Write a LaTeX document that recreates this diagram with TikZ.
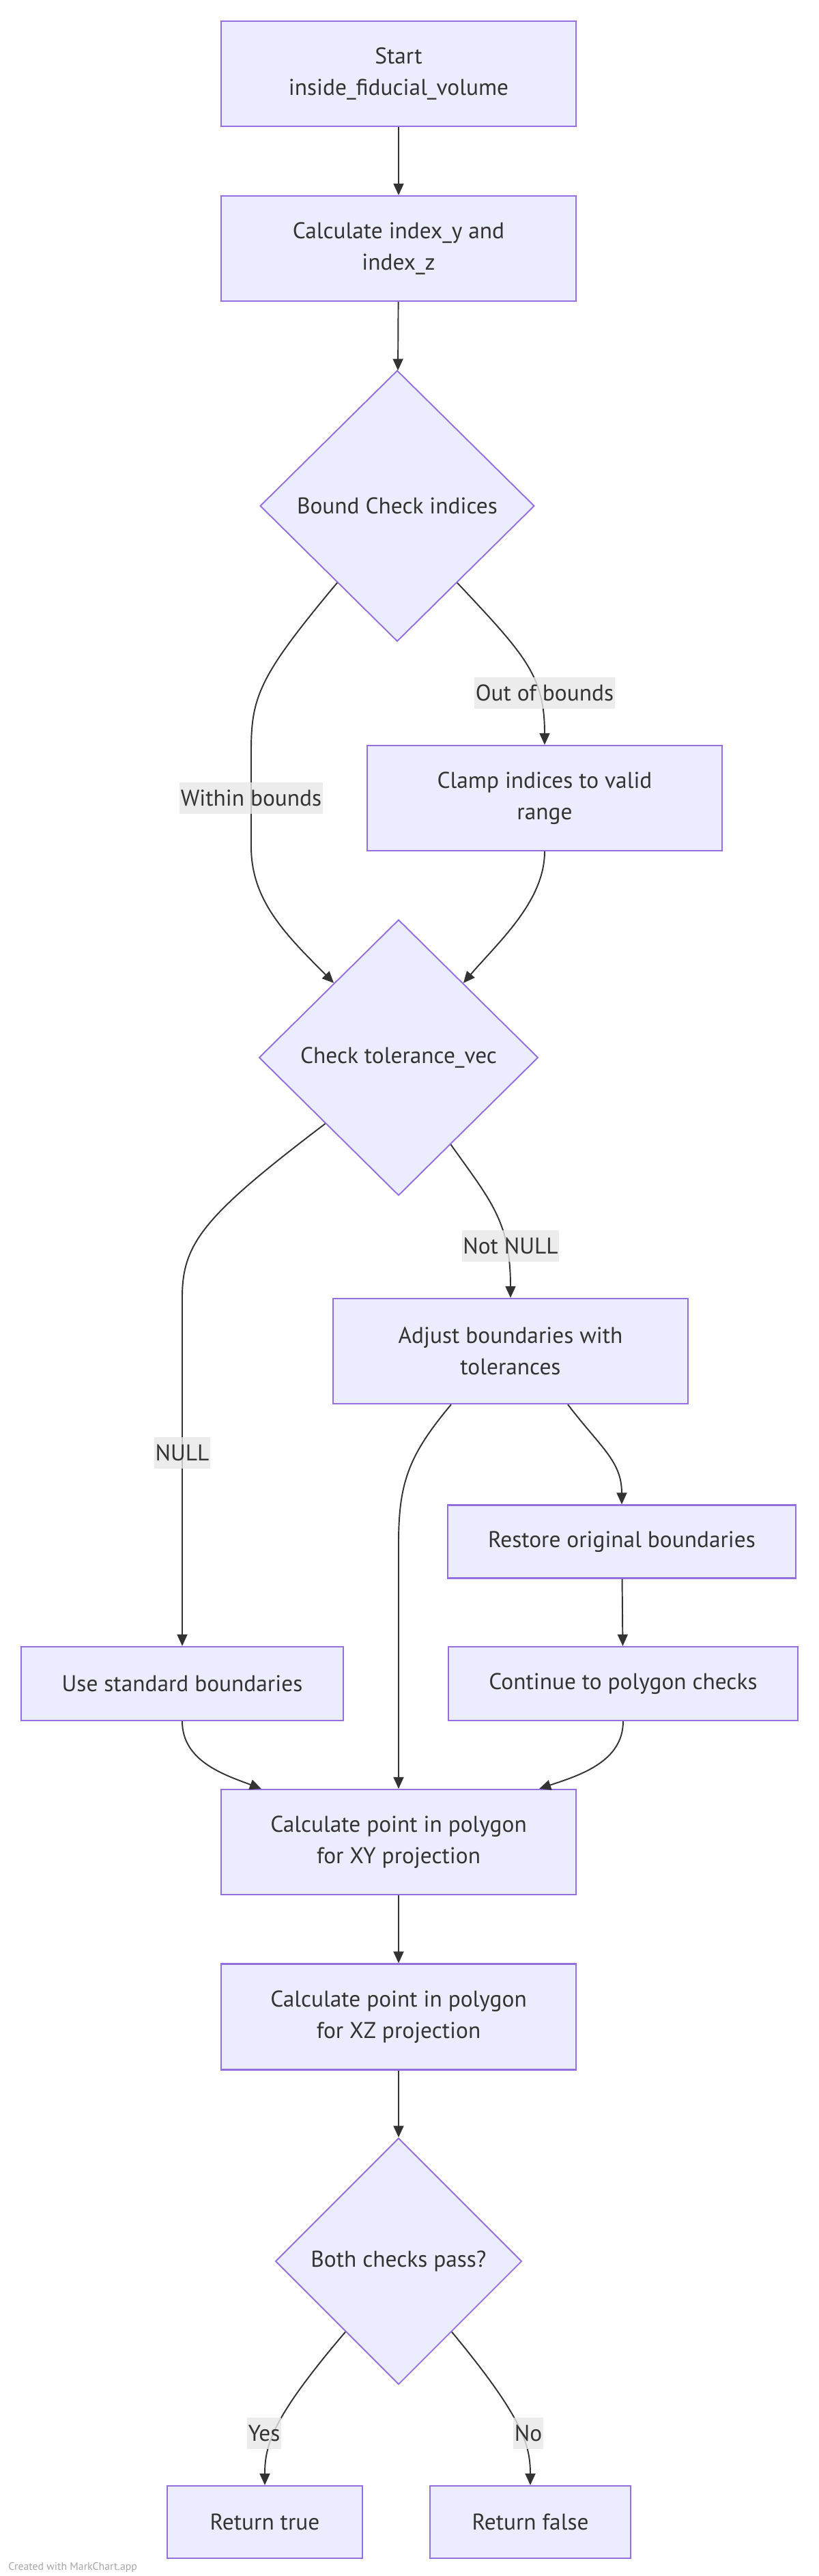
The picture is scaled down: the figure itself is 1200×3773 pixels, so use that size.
\documentclass[tikz,border=0pt]{standalone}
\usepackage{fontspec}
\setmainfont{PT Sans}
\usetikzlibrary{shapes.geometric,arrows.meta}
\definecolor{nodefill}{HTML}{ECECFF}
\definecolor{nodeline}{HTML}{9370DB}
\definecolor{edgeline}{HTML}{333333}
\definecolor{lblfill}{HTML}{E8E8E8}
\newcommand{\chartfont}{\fontsize{19}{26}\selectfont}
\begin{document}
\begin{tikzpicture}[x=0.02cm,y=-0.02cm,
    box/.style={rectangle,draw=nodeline,fill=nodefill,line width=1.3pt,text=edgeline,align=center,font=\chartfont},
    decision/.style={diamond,draw=nodeline,fill=nodefill,line width=1.1pt,text=edgeline,align=center,inner sep=0pt,font=\chartfont},
    lbl/.style={fill=lblfill,fill opacity=0.8,text opacity=1,text=edgeline,inner xsep=1pt,inner ysep=0pt,minimum height=0.92cm,font=\chartfont},
    flow/.style={draw=edgeline,line width=1.1pt,-{Triangle[length=0.34cm,width=0.3cm]}}]
    \useasboundingbox[fill=white] (0,0) rectangle (1200,3773);
    % nodes
    \node[box,minimum width=10.4cm,minimum height=3.08cm] (start) at (584,108) {Start\\inside\_fiducial\_volume};
    \node[box,minimum width=10.4cm,minimum height=3.08cm] (calcidx) at (584,364) {Calculate index\_y and\\index\_z};
    \node[decision,minimum width=8.04cm,minimum height=7.94cm] (bound) at (582,741) {Bound Check indices};
    \node[box,minimum width=10.4cm,minimum height=3.08cm] (clamp) at (798,1169) {Clamp indices to valid\\range};
    \node[decision,minimum width=8.18cm,minimum height=8.08cm] (tol) at (584,1549) {Check tolerance\_vec};
    \node[box,minimum width=10.4cm,minimum height=3.08cm] (adjust) at (748,1979) {Adjust boundaries with\\tolerances};
    \node[box,minimum width=10.2cm,minimum height=2.14cm] (restore) at (911,2258) {Restore original boundaries};
    \node[box,minimum width=10.24cm,minimum height=2.16cm] (cont) at (913,2466) {Continue to polygon checks};
    \node[box,minimum width=9.44cm,minimum height=2.16cm] (std) at (267,2466) {Use standard boundaries};
    \node[box,minimum width=10.4cm,minimum height=3.08cm] (calcxy) at (584,2698) {Calculate point in polygon\\for XY projection};
    \node[box,minimum width=10.4cm,minimum height=3.1cm] (calcxz) at (584,2954) {Calculate point in polygon\\for XZ projection};
    \node[decision,minimum width=7.22cm,minimum height=7.22cm] (both) at (584,3312) {Both checks pass?};
    \node[box,minimum width=5.72cm,minimum height=2.12cm] (rtrue) at (388,3694) {Return true};
    \node[box,minimum width=5.88cm,minimum height=2.12cm] (rfalse) at (777,3694) {Return false};
    % connectors
    \draw[flow] (start) -- (calcidx);
    \draw[flow] (calcidx) -- (bound);
    \draw[flow] (bound.-52) .. controls (770,960) and (798,990) .. (clamp.north);
    \draw[flow] (bound.-128) .. controls (380,990) and (368,1020) .. (368,1100) -- (368,1240) .. controls (368,1320) and (420,1370) .. (tol.131);
    \draw[flow] (clamp.south) .. controls (798,1320) and (730,1380) .. (tol.49);
    \draw[flow] (tol.-59) .. controls (720,1760) and (748,1790) .. (adjust.north);
    \draw[flow] (tol.-138) .. controls (300,1780) and (267,1820) .. (267,1900) -- (std.north);
    \draw[flow] ([xshift=1.68cm]adjust.south) .. controls (880,2120) and (911,2140) .. (restore.north);
    \draw[flow] ([xshift=-1.74cm]adjust.south) .. controls (600,2130) and (584,2170) .. (584,2260) -- (calcxy.north);
    \draw[flow] (restore) -- (cont);
    \draw[flow] (std.south) .. controls (267,2580) and (330,2600) .. ([xshift=1.2cm]calcxy.north west);
    \draw[flow] (cont.south) .. controls (913,2580) and (850,2600) .. ([xshift=-1.1cm]calcxy.north east);
    \draw[flow] (calcxy) -- (calcxz);
    \draw[flow] (calcxz) -- (both);
    \draw[flow] (both.-127) .. controls (400,3540) and (388,3580) .. (rtrue.north);
    \draw[flow] (both.-53) .. controls (765,3540) and (777,3580) .. (rfalse.north);
    % edge labels
    \node[lbl] (oob) at (798,1015) {Out of bounds};
    \node[lbl] (wib) at (368,1169) {Within bounds};
    \node[lbl] (nnull) at (748,1825) {Not NULL};
    \node[lbl] (isnull) at (267,2128) {NULL};
    \node[lbl] (yes) at (387,3564) {Yes};
    \node[lbl] (no) at (774,3564) {No};
    \node[anchor=west,text=black!35,font=\fontsize{9}{10}\selectfont,inner sep=0pt] (mark) at (12,3760) {Created with MarkChart.app};
\end{tikzpicture}
\end{document}
